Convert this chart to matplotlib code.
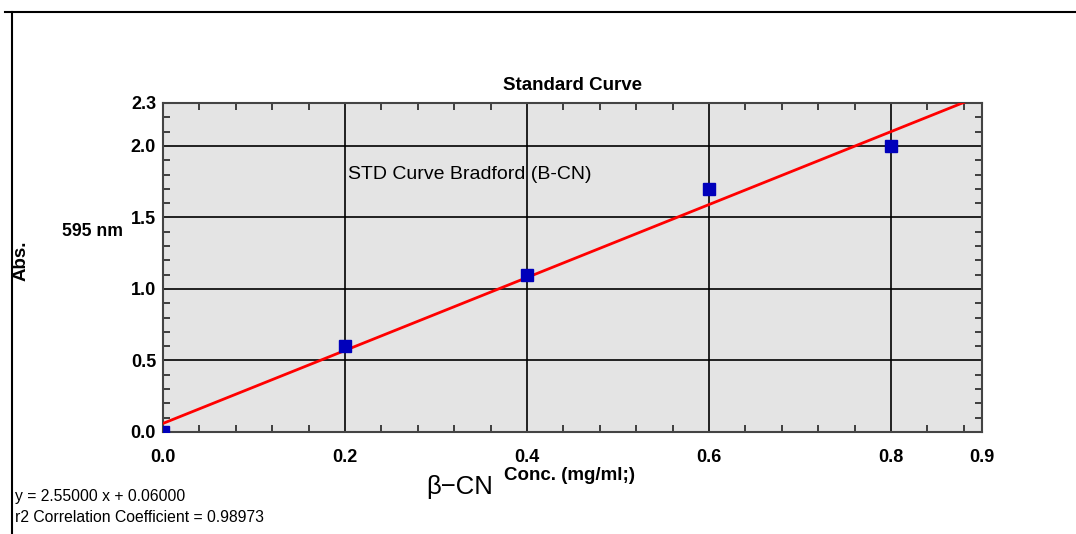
import numpy as np
import matplotlib
matplotlib.use("Agg")
import matplotlib.pyplot as plt
from matplotlib.ticker import MultipleLocator, FixedLocator
from matplotlib.lines import Line2D

plt.rcParams['font.family'] = ['Liberation Sans', 'DejaVu Sans']

# standards
conc = [0.0, 0.2, 0.4, 0.6, 0.8]
absorb = [0.0, 0.6, 1.1, 1.7, 2.0]
x_major = [0.0, 0.2, 0.4, 0.6, 0.8, 0.9]
y_major = [0.0, 0.5, 1.0, 1.5, 2.0, 2.3]
x_grid = [0.2, 0.4, 0.6, 0.8]
y_grid = [0.5, 1.0, 1.5, 2.0]

slope, intercept = np.polyfit(conc, absorb, 1)
r2 = 0.98973

fig = plt.figure(figsize=(10.76, 5.34), dpi=100)
ax = fig.add_axes([163 / 1076, 102 / 534, 819 / 1076, 329 / 534])
ax.set_facecolor('#e4e4e4')
ax.set_xlim(0, 0.9)
ax.set_ylim(0, 2.3)

for gx in x_grid:
    ax.axvline(gx, color='black', lw=1.2, zorder=1)
for gy in y_grid:
    ax.axhline(gy, color='black', lw=1.2, zorder=1)

xs = np.array([0.0, 0.9])
ax.plot(xs, slope * xs + intercept, color='#ff0000', lw=2, zorder=3)
ax.plot(conc, absorb, 's', color='#0000bb', ms=9, zorder=4, clip_on=True)

ax.xaxis.set_major_locator(FixedLocator(x_major))
ax.yaxis.set_major_locator(FixedLocator(y_major))
ax.xaxis.set_minor_locator(MultipleLocator(0.04))
ax.yaxis.set_minor_locator(MultipleLocator(0.1))
ax.set_xticklabels([f"{v:.1f}" for v in x_major], fontweight='bold', fontsize=13)
ax.set_yticklabels([f"{v:.1f}" for v in y_major], fontweight='bold', fontsize=13)
ax.tick_params(which='both', direction='in', top=True, right=True, color='#222222')
ax.tick_params(axis='x', which='major', length=0, pad=12)
ax.tick_params(axis='y', which='major', length=0, pad=5)
ax.tick_params(which='minor', length=5, width=1.2)
for s in ax.spines.values():
    s.set_color('#444444')
    s.set_linewidth(1.5)

ax.set_title('Standard Curve', fontsize=13.5, fontweight='bold', pad=9)
ax.text(0.203, 1.8, 'STD Curve Bradford (B-CN)', fontsize=14,
        va='center', ha='left')

fig.text(92 / 1076, 1 - 232 / 534, '595 nm', fontsize=12.7, fontweight='bold',
         ha='center', va='center')
fig.text(21 / 1076, 1 - 261 / 534, 'Abs.', fontsize=13.5, fontweight='bold',
         rotation=90, ha='center', va='center')
fig.text(460 / 1076, 1 - 487 / 534, 'β−CN', fontsize=18.5,
         ha='center', va='center')
fig.text(570 / 1076, 1 - 476 / 534, 'Conc. (mg/ml;)', fontsize=13.5, fontweight='bold',
         ha='center', va='center')
fig.text(15 / 1076, 1 - 497 / 534, f'y = {slope:.5f} x + {intercept:.5f}', fontsize=11.3,
         ha='left', va='center')
fig.text(15 / 1076, 1 - 517 / 534, f'r2 Correlation Coefficient = {r2:.5f}', fontsize=11.3,
         ha='left', va='center')

# outer frame (top and left)
fig.add_artist(Line2D([5 / 1076, 1.0], [1 - 12 / 534, 1 - 12 / 534], color='black', lw=1.5))
fig.add_artist(Line2D([12 / 1076, 12 / 1076], [0.0, 1 - 12 / 534], color='black', lw=1.5))

fig.savefig('out.png', dpi=100)
